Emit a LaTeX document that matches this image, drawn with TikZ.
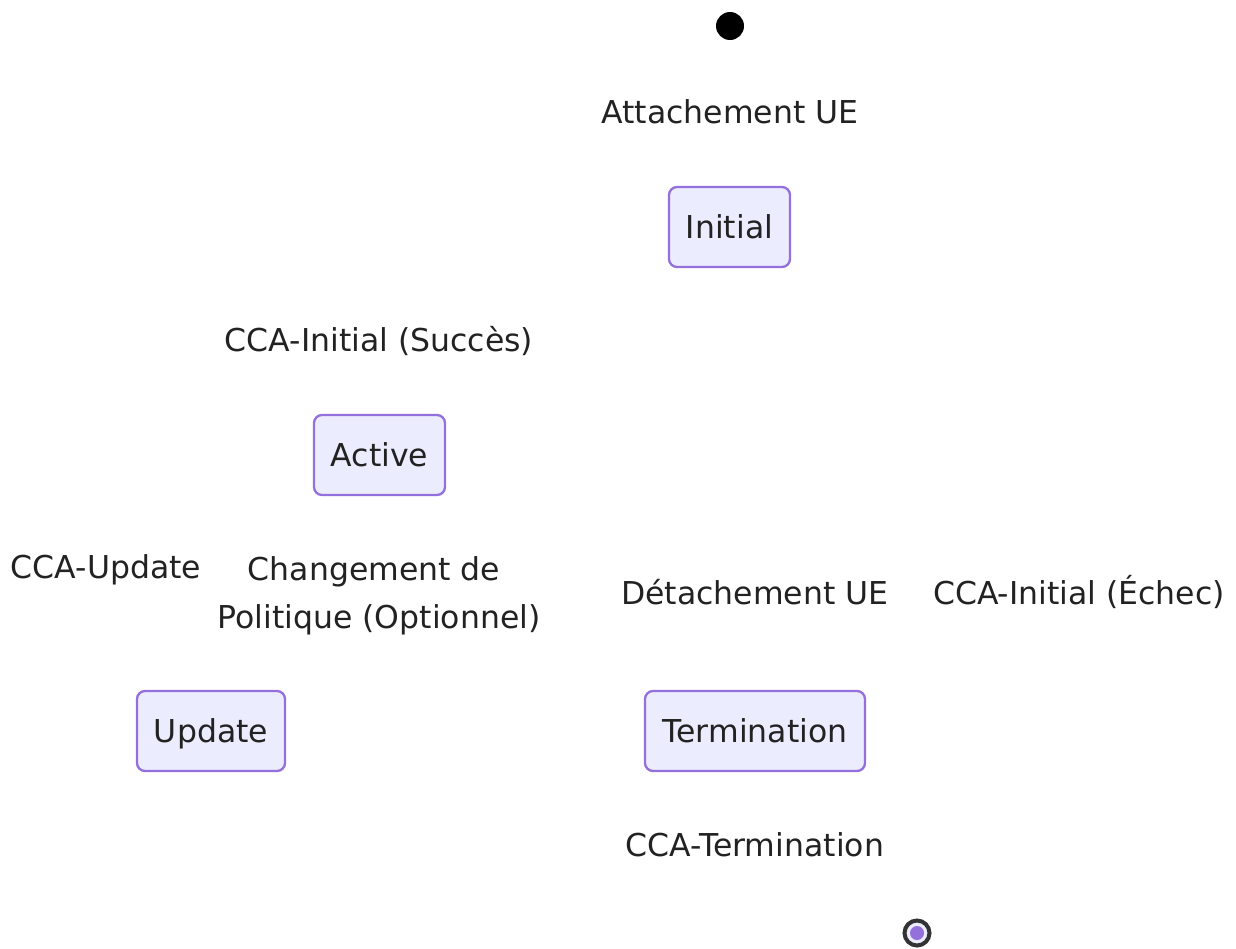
\documentclass[tikz,border=0pt]{standalone}
\usepackage{fontspec}
\setmainfont{DejaVu Sans}
\definecolor{boxfill}{HTML}{ECECFF}
\definecolor{boxline}{HTML}{9370DB}
\definecolor{txt}{HTML}{222222}
\definecolor{ring}{HTML}{333333}
\begin{document}
\begin{tikzpicture}[x=1pt,y=-1pt,
  every node/.style={font=\fontsize{31.5}{48}\selectfont, text=txt, text height=26pt, text depth=4pt},
  statebox/.style={draw=boxline, fill=boxfill, line width=2.3pt, rounded corners=8pt, minimum height=80pt, inner xsep=16pt},
  lbl/.style={align=center, inner sep=0pt}]
\useasboundingbox (0,0) rectangle (1236,948);
\fill[black] (730,26) circle (14) coordinate (start);
\node[lbl] (l1) at (730,112) {Attachement UE};
\node[statebox, minimum width=121pt] (initial) at (729.5,227) {Initial};
\node[lbl] (l2) at (379,340) {CCA-Initial (Succès)};
\node[statebox, minimum width=131pt] (active) at (379.5,455) {Active};
\node[lbl] (l3) at (106,567) {CCA-Update};
\node[lbl] (l4a) at (374,569) {Changement de};
\node[lbl] (l4b) at (379,617) {Politique (Optionnel)};
\node[lbl] (l5) at (755,593) {Détachement UE};
\node[lbl] (l6) at (1079,593) {CCA-Initial (Échec)};
\node[statebox, minimum width=148pt] (update) at (211,731) {Update};
\node[statebox, minimum width=220pt] (term) at (755,731) {Termination};
\node[lbl] (l7) at (755,845) {CCA-Termination};
\node[circle, draw=ring, line width=4pt, fill=boxfill, minimum size=25pt, inner sep=0pt, text height=, text depth=] (end) at (917,933) {};
\fill[boxline] (end.center) circle (7);
\end{tikzpicture}
\end{document}
